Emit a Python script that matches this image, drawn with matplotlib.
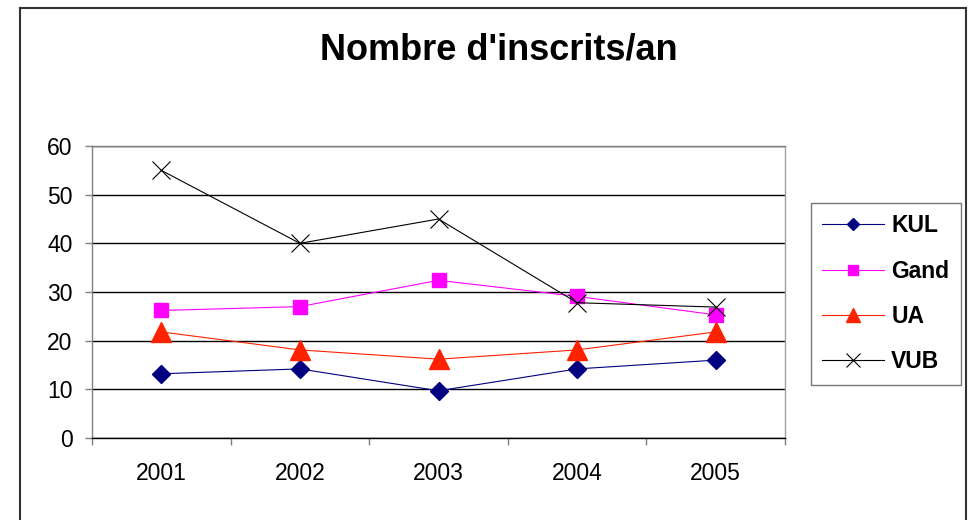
import matplotlib.pyplot as plt
from matplotlib.lines import Line2D

plt.rcParams["font.family"] = ["Liberation Sans", "DejaVu Sans"]

years = ["2001", "2002", "2003", "2004", "2005"]
kul = [13.2, 14.2, 9.7, 14.2, 16.0]
gand = [26.2, 27.0, 32.4, 29.1, 25.3]
ua = [21.8, 18.1, 16.2, 18.1, 21.8]
vub = [55.0, 40.0, 45.0, 27.8, 26.9]

fig = plt.figure(figsize=(9.71, 5.2), dpi=100)
ax = fig.add_axes([92 / 971, 1 - 438 / 520, 693 / 971, 292 / 520])

x = range(len(years))
ax.plot(x, kul, color="#000080", lw=0.8, marker="D", ms=8.7, label="KUL")
ax.plot(x, gand, color="#FF00FF", lw=0.8, marker="s", ms=10.5, label="Gand")
ax.plot(x, ua, color="#FF2200", lw=0.8, marker="^", ms=14, label="UA")
ax.plot(x, vub, color="black", lw=0.8, marker="x", ms=13, mew=0.8, label="VUB")

ax.set_xlim(-0.5, 4.5)
ax.set_ylim(0, 60)
ax.set_yticks(range(0, 61, 10))
ax.grid(axis="y", color="black", lw=1)
ax.set_axisbelow(True)

# labels at category centres, tick marks at category boundaries
ax.set_xticks(list(x))
ax.set_xticklabels(years)
ax.set_xticks([i - 0.5 for i in range(len(years) + 1)], minor=True)
ax.tick_params(axis="x", which="major", length=0, pad=17, labelsize=16.5)
ax.tick_params(axis="x", which="minor", length=5, width=1, color="#808080")
ax.tick_params(axis="y", length=5, width=1, color="#808080", pad=9, labelsize=16.5)

ax.spines["left"].set_color("#808080")
ax.spines["top"].set_color("#808080")
ax.spines["right"].set_color("#A0A0A0")
ax.spines["bottom"].set_color("black")
for s in ax.spines.values():
    s.set_linewidth(1)

fig.text(499 / 971, 1 - 59 / 520, "Nombre d'inscrits/an", ha="center",
         va="baseline", fontsize=26, fontweight="bold")

leg = fig.legend(loc="upper left", bbox_to_anchor=(811 / 971, 1 - 203 / 520),
                 borderaxespad=0, fancybox=False, edgecolor="#555555",
                 prop={"size": 16.5, "weight": "bold"}, handlelength=2.7,
                 handletextpad=0.3, labelspacing=0.97, borderpad=0.5,
                 markerscale=0.75)
leg.get_frame().set_linewidth(1)

# outer chart border (bottom edge falls outside the image)
l, r, t = 20 / 971, 966 / 971, 1 - 8 / 520
for xs, ys in [([l, l], [-0.1, t]), ([l, r], [t, t]), ([r, r], [t, -0.1])]:
    fig.add_artist(Line2D(xs, ys, color="#333333", lw=1.5, transform=fig.transFigure))

fig.savefig("out.png", dpi=100)
